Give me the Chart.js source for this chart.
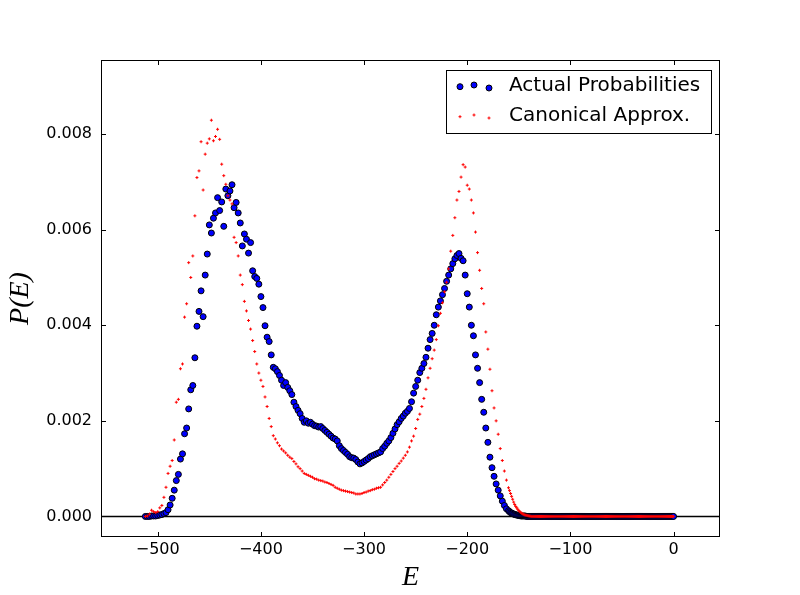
<!DOCTYPE html>
<html>
<head>
<meta charset="utf-8">
<script src="https://cdn.jsdelivr.net/npm/chart.js@4.4.1/dist/chart.umd.min.js"></script>
<style>
  html, body { margin: 0; padding: 0; background: #fff; }
  #wrap { width: 800px; height: 595px; }
</style>
</head>
<body>
<div id="wrap"><canvas id="chart" width="800" height="595"></canvas></div>
<script>
// energies E: step 2 down to -162, then every value from -160 to 0
const energies = [
  -512, -510, -508, -506, -504, -502, -500, -498, -496, -494,
  -492, -490, -488, -486, -484, -482, -480, -478, -476, -474,
  -472, -470, -468, -466, -464, -462, -460, -458, -456, -454,
  -452, -450, -448, -446, -444, -442, -440, -438, -436, -434,
  -432, -430, -428, -426, -424, -422, -420, -418, -416, -414,
  -412, -410, -408, -406, -404, -402, -400, -398, -396, -394,
  -392, -390, -388, -386, -384, -382, -380, -378, -376, -374,
  -372, -370, -368, -366, -364, -362, -360, -358, -356, -354,
  -352, -350, -348, -346, -344, -342, -340, -338, -336, -334,
  -332, -330, -328, -326, -324, -322, -320, -318, -316, -314,
  -312, -310, -308, -306, -304, -302, -300, -298, -296, -294,
  -292, -290, -288, -286, -284, -282, -280, -278, -276, -274,
  -272, -270, -268, -266, -264, -262, -260, -258, -256, -254,
  -252, -250, -248, -246, -244, -242, -240, -238, -236, -234,
  -232, -230, -228, -226, -224, -222, -220, -218, -216, -214,
  -212, -210, -208, -206, -204, -202, -200, -198, -196, -194,
  -192, -190, -188, -186, -184, -182, -180, -178, -176, -174,
  -172, -170, -168, -166, -164, -162,
  -160, -159, -158, -157, -156, -155, -154, -153, -152, -151, -150, -149, -148, -147, -146, -145, -144, -143, -142, -141,
  -140, -139, -138, -137, -136, -135, -134, -133, -132, -131, -130, -129, -128, -127, -126, -125, -124, -123, -122, -121,
  -120, -119, -118, -117, -116, -115, -114, -113, -112, -111, -110, -109, -108, -107, -106, -105, -104, -103, -102, -101,
  -100, -99, -98, -97, -96, -95, -94, -93, -92, -91, -90, -89, -88, -87, -86, -85, -84, -83, -82, -81,
  -80, -79, -78, -77, -76, -75, -74, -73, -72, -71, -70, -69, -68, -67, -66, -65, -64, -63, -62, -61,
  -60, -59, -58, -57, -56, -55, -54, -53, -52, -51, -50, -49, -48, -47, -46, -45, -44, -43, -42, -41,
  -40, -39, -38, -37, -36, -35, -34, -33, -32, -31, -30, -29, -28, -27, -26, -25, -24, -23, -22, -21,
  -20, -19, -18, -17, -16, -15, -14, -13, -12, -11, -10, -9, -8, -7, -6, -5, -4, -3, -2, -1,
  0
];

// P(E) in units of 1e-3
const actualProb = [
  0, 0, 0, 0.01, 0.01, 0.01, 0.02, 0.03, 0.04, 0.06,
  0.08, 0.14, 0.24, 0.38, 0.55, 0.75, 0.88, 1.20, 1.31, 1.73,
  1.85, 2.25, 2.65, 2.74, 3.32, 3.98, 4.29, 4.72, 4.18, 5.05,
  5.49, 6.10, 5.93, 6.24, 6.35, 6.67, 6.40, 6.58, 6.07, 6.85,
  6.71, 6.81, 6.94, 6.46, 6.57, 6.35, 6.14, 5.66, 5.91, 5.80,
  5.51, 5.73, 5.14, 5.02, 4.98, 4.86, 4.60, 4.37, 3.99, 3.75,
  3.66, 3.38, 3.12, 3.09, 3.03, 2.95, 2.85, 2.74, 2.80, 2.70,
  2.63, 2.55, 2.39, 2.30, 2.22, 2.15, 2.05, 1.97, 2.00, 1.95,
  1.97, 1.93, 1.90, 1.89, 1.87, 1.88, 1.84, 1.80, 1.76, 1.72,
  1.68, 1.64, 1.62, 1.58, 1.48, 1.42, 1.38, 1.34, 1.30, 1.25,
  1.23, 1.22, 1.19, 1.14, 1.10, 1.12, 1.15, 1.18, 1.21, 1.25,
  1.27, 1.29, 1.31, 1.33, 1.35, 1.42, 1.47, 1.53, 1.58, 1.65,
  1.74, 1.83, 1.92, 1.98, 2.05, 2.10, 2.16, 2.20, 2.26, 2.40,
  2.58, 2.72, 2.85, 3.01, 3.10, 3.20, 3.33, 3.52, 3.70, 3.83,
  4.00, 4.22, 4.38, 4.51, 4.64, 4.77, 4.92, 5.05, 5.18, 5.29,
  5.39, 5.46, 5.50, 5.40, 5.35, 5.05, 4.66, 4.38, 4.00, 3.78,
  3.38, 3.10, 2.80, 2.45, 2.18, 1.85, 1.55, 1.24, 1.02, 0.84,
  0.68, 0.55, 0.43, 0.32, 0.23, 0.16,
  0.12, 0.10, 0.08, 0.07, 0.06, 0.05, 0.04, 0.035, 0.03, 0.025, 0.02, 0.015, 0.01, 0.01, 0.01, 0.01, 0.01, 0.005, 0, 0,
  0, 0, 0, 0, 0, 0, 0, 0, 0, 0, 0, 0, 0, 0, 0, 0, 0, 0, 0, 0,
  0, 0, 0, 0, 0, 0, 0, 0, 0, 0, 0, 0, 0, 0, 0, 0, 0, 0, 0, 0,
  0, 0, 0, 0, 0, 0, 0, 0, 0, 0, 0, 0, 0, 0, 0, 0, 0, 0, 0, 0,
  0, 0, 0, 0, 0, 0, 0, 0, 0, 0, 0, 0, 0, 0, 0, 0, 0, 0, 0, 0,
  0, 0, 0, 0, 0, 0, 0, 0, 0, 0, 0, 0, 0, 0, 0, 0, 0, 0, 0, 0,
  0, 0, 0, 0, 0, 0, 0, 0, 0, 0, 0, 0, 0, 0, 0, 0, 0, 0, 0, 0,
  0, 0, 0, 0, 0, 0, 0, 0, 0, 0, 0, 0, 0, 0, 0, 0, 0, 0, 0, 0,
  0
];

const canonicalProb = [
  0, 0.01, 0.05, 0.13, 0.10, 0.08, 0.10, 0.18, 0.23, 0.40,
  0.61, 0.90, 1.05, 1.17, 1.60, 2.39, 2.45, 3.09, 3.19, 4.17,
  4.45, 5.31, 5.00, 5.45, 6.29, 7.09, 7.23, 7.84, 6.83, 7.58,
  7.81, 7.90, 8.29, 7.86, 7.95, 8.10, 7.89, 7.37, 7.13, 6.95,
  6.71, 6.62, 6.54, 5.84, 5.73, 5.45, 5.05, 4.85, 4.50, 4.30,
  4.10, 3.92, 3.68, 3.45, 3.19, 3.00, 2.85, 2.72, 2.50, 2.30,
  2.05, 1.88, 1.69, 1.62, 1.54, 1.48, 1.41, 1.37, 1.33, 1.28,
  1.24, 1.21, 1.15, 1.10, 1.04, 1.00, 0.95, 0.90, 0.88, 0.86,
  0.84, 0.82, 0.79, 0.78, 0.76, 0.75, 0.74, 0.72, 0.71, 0.69,
  0.67, 0.65, 0.61, 0.59, 0.57, 0.55, 0.54, 0.53, 0.52, 0.51,
  0.50, 0.49, 0.47, 0.47, 0.47, 0.48, 0.50, 0.51, 0.53, 0.54,
  0.56, 0.57, 0.59, 0.60, 0.61, 0.66, 0.71, 0.76, 0.82, 0.88,
  0.94, 1.00, 1.05, 1.11, 1.16, 1.22, 1.28, 1.35, 1.45, 1.58,
  1.68, 1.84, 2.03, 2.14, 2.30, 2.47, 2.66, 2.90, 3.10, 3.30,
  3.48, 3.70, 3.99, 4.25, 4.47, 4.70, 4.90, 5.18, 5.55, 5.88,
  6.25, 6.62, 6.80, 7.10, 7.36, 7.31, 6.93, 6.85, 6.62, 6.35,
  5.95, 5.52, 5.15, 4.77, 4.45, 3.86, 3.50, 3.08, 2.63, 2.27,
  2.00, 1.72, 1.42, 1.17, 0.95, 0.76,
  0.60, 0.54, 0.48, 0.42, 0.36, 0.30, 0.25, 0.21, 0.18, 0.15, 0.12, 0.10, 0.08, 0.065, 0.05, 0.04, 0.03, 0.025, 0.02, 0.015,
  0.01, 0.005, 0, 0, 0, 0, 0, 0, 0, 0, 0, 0, 0, 0, 0, 0, 0, 0, 0, 0,
  0, 0, 0, 0, 0, 0, 0, 0, 0, 0, 0, 0, 0, 0, 0, 0, 0, 0, 0, 0,
  0, 0, 0, 0, 0, 0, 0, 0, 0, 0, 0, 0, 0, 0, 0, 0, 0, 0, 0, 0,
  0, 0, 0, 0, 0, 0, 0, 0, 0, 0, 0, 0, 0, 0, 0, 0, 0, 0, 0, 0,
  0, 0, 0, 0, 0, 0, 0, 0, 0, 0, 0, 0, 0, 0, 0, 0, 0, 0, 0, 0,
  0, 0, 0, 0, 0, 0, 0, 0, 0, 0, 0, 0, 0, 0, 0, 0, 0, 0, 0, 0,
  0, 0, 0, 0, 0, 0, 0, 0, 0, 0, 0, 0, 0, 0, 0, 0, 0, 0, 0, 0,
  0
];
const probUnit = 1e-3;

const xTicks = [-500, -400, -300, -200, -100, 0];
const yTicks = [0, 0.002, 0.004, 0.006, 0.008];
const seriesLabels = ['Actual Probabilities', 'Canonical Approx.'];

if (actualProb.length !== energies.length || canonicalProb.length !== energies.length) {
  console.warn('length mismatch', energies.length, actualProb.length, canonicalProb.length);
}

const toPoints = vals => energies.map((e, i) => ({ x: e, y: vals[i] * probUnit }));

function drawMarker(ctx, kind, x, y) {
  ctx.save();
  if (kind === 'circle') {
    ctx.fillStyle = '#0000ff';
    ctx.strokeStyle = '#000';
    ctx.lineWidth = 1;
    ctx.beginPath();
    ctx.arc(x, y, 3, 0, Math.PI * 2);
    ctx.fill();
    ctx.stroke();
  } else {
    ctx.strokeStyle = '#ff0000';
    ctx.lineWidth = 1;
    ctx.beginPath();
    ctx.moveTo(x - 1.5, y); ctx.lineTo(x + 1.5, y);
    ctx.moveTo(x, y - 1.5); ctx.lineTo(x, y + 1.5);
    ctx.stroke();
  }
  ctx.restore();
}

const framePlugin = {
  id: 'framePlugin',
  beforeDatasetsDraw(chart) {
    const { ctx, chartArea: a, scales: { y } } = chart;
    const y0 = Math.round(y.getPixelForValue(0)) + 0.5;
    ctx.save();
    ctx.strokeStyle = '#000';
    ctx.lineWidth = 1.5;
    ctx.beginPath();
    ctx.moveTo(a.left, y0);
    ctx.lineTo(a.right, y0);
    ctx.stroke();
    ctx.restore();
  },
  afterDraw(chart) {
    const { ctx, chartArea: a, scales: { x, y } } = chart;
    const tl = 5;
    ctx.save();
    ctx.strokeStyle = '#000';
    ctx.lineWidth = 1;
    ctx.strokeRect(a.left + 0.5, a.top + 0.5, a.right - a.left - 1, a.bottom - a.top - 1);
    ctx.beginPath();
    xTicks.forEach(v => {
      const px = Math.round(x.getPixelForValue(v)) + 0.5;
      ctx.moveTo(px, a.bottom); ctx.lineTo(px, a.bottom - tl);
      ctx.moveTo(px, a.top); ctx.lineTo(px, a.top + tl);
    });
    yTicks.forEach(v => {
      const py = Math.round(y.getPixelForValue(v)) + 0.5;
      ctx.moveTo(a.left, py); ctx.lineTo(a.left + tl, py);
      ctx.moveTo(a.right, py); ctx.lineTo(a.right - tl, py);
    });
    ctx.stroke();

    // legend box, upper right
    const bw = 265, bh = 63;
    const bx = a.right - 9 - bw, by = a.top + 10;
    ctx.fillStyle = '#fff';
    ctx.fillRect(bx, by, bw, bh);
    ctx.strokeRect(bx + 0.5, by + 0.5, bw, bh);
    const kinds = ['circle', 'cross'];
    const jitter = [0.7, -1, 2];
    ctx.font = '20px "DejaVu Sans"';
    ctx.textBaseline = 'middle';
    ctx.textAlign = 'left';
    seriesLabels.forEach((label, i) => {
      const cy = by + 16 + i * 30;
      [14, 28, 43].forEach((dx, k) => drawMarker(ctx, kinds[i], bx + dx, cy + jitter[k]));
      ctx.fillStyle = '#000';
      ctx.fillText(label, bx + 63, cy);
    });
    ctx.restore();
  }
};

new Chart(document.getElementById('chart'), {
  type: 'scatter',
  data: {
    datasets: [
      {
        label: seriesLabels[0],
        data: toPoints(actualProb),
        pointStyle: 'circle',
        pointRadius: 3,
        pointBackgroundColor: '#0000ff',
        pointBorderColor: '#000',
        pointBorderWidth: 1,
        order: 2
      },
      {
        label: seriesLabels[1],
        data: toPoints(canonicalProb),
        pointStyle: 'cross',
        pointRadius: 1.5,
        pointBorderColor: '#ff0000',
        pointBackgroundColor: '#ff0000',
        pointBorderWidth: 1,
        order: 1
      }
    ]
  },
  options: {
    responsive: false,
    animation: false,
    layout: { padding: { top: 60, right: 80, left: 0, bottom: 0 } },
    plugins: {
      legend: { display: false },
      tooltip: { enabled: false }
    },
    scales: {
      x: {
        type: 'linear',
        min: -555,
        max: 45,
        afterFit: s => { s.height = 58; },
        afterBuildTicks: s => { s.ticks = xTicks.map(v => ({ value: v })); },
        grid: { display: false, drawTicks: false },
        border: { display: false },
        ticks: {
          padding: 3,
          color: '#000',
          font: { family: '"DejaVu Sans"', size: 16 },
          callback: v => (v < 0 ? '\u2212' + Math.abs(v) : String(v))
        },
        title: {
          display: true,
          text: 'E',
          color: '#000',
          font: { family: '"Liberation Serif"', size: 28, style: 'italic' },
          padding: { top: 0, bottom: 1 }
        }
      },
      y: {
        type: 'linear',
        min: -0.00043,
        max: 0.00955,
        afterFit: s => { s.width = 101; },
        afterBuildTicks: s => { s.ticks = yTicks.map(v => ({ value: v })); },
        grid: { display: false, drawTicks: false },
        border: { display: false },
        ticks: {
          padding: 9,
          color: '#000',
          font: { family: '"DejaVu Sans"', size: 16 },
          callback: v => v.toFixed(3)
        },
        title: {
          display: true,
          text: 'P(E)',
          color: '#000',
          font: { family: '"Liberation Serif"', size: 28, style: 'italic' },
          padding: { top: 4, bottom: 0 }
        }
      }
    }
  },
  plugins: [framePlugin]
});
</script>
</body>
</html>
